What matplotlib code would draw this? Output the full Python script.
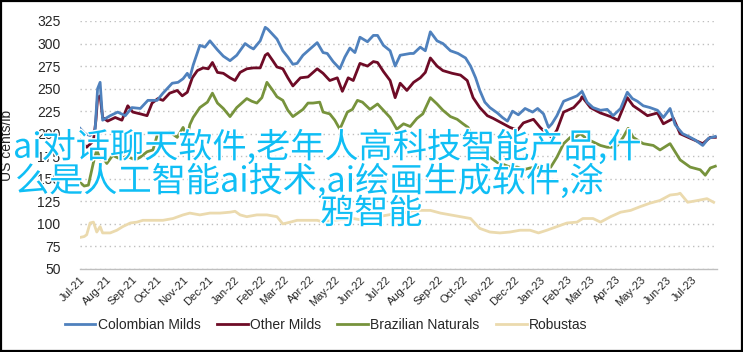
import matplotlib
matplotlib.use("Agg")
import matplotlib.pyplot as plt
import matplotlib.dates as mdates
import matplotlib.patheffects as pe
from matplotlib.patches import Rectangle
import numpy as np
import pandas as pd

START = "2021-07-01"
END = "2023-07-31"

# day offsets from START and prices (US cents/lb)
colombian_days = [0, 6, 12, 18, 21, 24, 27, 36, 45, 54, 62, 72, 81, 92, 99, 110, 117, 123, 128, 131, 135, 143, 149,
                  155, 164, 171, 179, 187, 197, 203, 207, 215, 221, 224, 229, 235, 242, 248, 254, 259, 266, 272, 283,
                  290, 295, 302, 310, 316, 322, 328, 334, 343, 350, 355, 362, 370, 376, 382, 394, 398, 406, 412, 418,
                  426, 433, 442, 451, 460, 466, 472, 477, 483, 489, 498, 504, 510, 516, 523, 531, 540, 546, 553, 559,
                  563, 569, 577, 585, 593, 599, 605, 612, 621, 629, 636, 645, 653, 659, 665, 672, 680, 689, 696, 704,
                  710, 719, 726, 734, 743, 750, 758]
colombian_vals = [206, 200, 198, 204, 250, 257, 215, 220, 224, 220, 229, 228, 237, 237, 245, 256, 257, 261, 267, 262,
                  276, 298, 296, 303, 293, 286, 281, 287, 300, 296, 294, 303, 318, 316, 311, 305, 292, 285, 277, 278,
                  287, 292, 301, 290, 289, 280, 272, 285, 295, 290, 307, 302, 309, 309, 298, 292, 275, 287, 289, 289,
                  296, 292, 313, 303, 300, 292, 289, 284, 275, 262, 248, 235, 229, 223, 218, 214, 225, 221, 228, 224,
                  228, 222, 207, 211, 220, 236, 239, 242, 247, 235, 229, 226, 227, 220, 228, 246, 239, 236, 231, 229,
                  226, 218, 228, 210, 200, 197, 193, 187, 195, 197]

other_days = [0, 5, 8, 16, 19, 21, 24, 27, 33, 42, 50, 57, 63, 72, 80, 86, 93, 99, 107, 116, 122, 128, 134, 140, 147,
              153, 158, 164, 171, 179, 185, 191, 199, 207, 215, 221, 224, 230, 235, 242, 248, 254, 263, 272, 283, 290,
              298, 307, 313, 320, 326, 334, 343, 350, 355, 362, 370, 376, 382, 390, 398, 406, 412, 418, 426, 433, 444,
              454, 462, 469, 477, 486, 493, 505, 513, 522, 529, 541, 549, 557, 563, 569, 577, 589, 597, 599, 609, 621,
              633, 642, 653, 660, 668, 677, 689, 696, 708, 716, 728, 743, 752, 758]
other_vals = [193, 188, 185, 192, 215, 240, 242, 218, 214, 218, 215, 231, 224, 222, 220, 234, 239, 237, 245, 248, 242,
              246, 262, 270, 273, 272, 279, 268, 267, 262, 259, 268, 272, 273, 273, 287, 289, 281, 274, 272, 262, 253,
              262, 263, 272, 267, 259, 262, 247, 262, 259, 278, 275, 280, 279, 269, 259, 240, 256, 248, 257, 262, 268,
              284, 275, 270, 267, 265, 259, 240, 229, 220, 217, 211, 207, 204, 212, 216, 207, 200, 196, 204, 224, 229,
              237, 241, 229, 223, 219, 215, 240, 231, 226, 220, 223, 211, 217, 200, 195, 189, 196, 196]

brazil_days = [0, 5, 10, 16, 20, 24, 27, 32, 39, 48, 56, 66, 72, 80, 87, 92, 99, 107, 116, 123, 128, 131, 135, 143,
               152, 158, 164, 171, 179, 187, 199, 205, 211, 217, 223, 230, 235, 242, 248, 254, 266, 272, 278, 286, 290,
               298, 304, 310, 319, 325, 331, 337, 346, 355, 362, 370, 378, 386, 394, 402, 409, 418, 426, 433, 442, 450,
               457, 463, 469, 477, 483, 489, 498, 505, 513, 522, 529, 537, 546, 553, 557, 563, 569, 577, 585, 591, 597,
               605, 612, 621, 629, 636, 641, 648, 654, 660, 672, 684, 692, 704, 710, 716, 728, 740, 746, 752, 758]
brazil_vals = [146, 142, 143, 168, 182, 172, 174, 167, 176, 172, 175, 171, 174, 180, 182, 198, 200, 202, 196, 207, 196,
               210, 218, 229, 235, 245, 234, 228, 219, 229, 239, 236, 234, 240, 257, 248, 241, 237, 226, 219, 227, 234,
               234, 235, 224, 222, 215, 205, 224, 227, 237, 235, 227, 233, 226, 218, 205, 211, 208, 217, 222, 240, 233,
               226, 219, 216, 211, 207, 194, 185, 180, 174, 168, 166, 163, 163, 160, 162, 163, 158, 156, 165, 174, 189,
               196, 196, 200, 194, 191, 187, 185, 185, 187, 196, 206, 196, 189, 187, 182, 189, 180, 171, 163, 160, 154,
               162, 164]

robusta_days = [0, 5, 8, 12, 16, 20, 24, 27, 36, 44, 51, 60, 68, 75, 87, 99, 111, 123, 131, 143, 155, 167, 179, 185,
                191, 199, 211, 223, 235, 242, 251, 259, 271, 283, 290, 302, 314, 326, 338, 350, 362, 374, 386, 398,
                406, 418, 430, 442, 454, 466, 477, 489, 501, 513, 525, 537, 547, 557, 569, 581, 593, 600, 612, 621,
                633, 645, 657, 668, 680, 692, 704, 713, 716, 725, 737, 748, 756]
robusta_vals = [85, 86, 88, 101, 102, 91, 97, 90, 90, 93, 97, 101, 102, 104, 104, 104, 106, 110, 112, 110, 112, 112,
                113, 114, 110, 108, 110, 110, 108, 100, 102, 104, 104, 104, 102, 104, 105, 106, 104, 107, 109, 111,
                112, 115, 115, 115, 112, 110, 108, 106, 95, 91, 90, 91, 93, 93, 90, 93, 97, 101, 102, 106, 106, 102,
                108, 113, 115, 119, 123, 126, 132, 133, 134, 124, 126, 128, 124]

series_names = ["Colombian Milds", "Other Milds", "Brazilian Naturals", "Robustas"]
series_colors = ["#4F81BD", "#6E0B26", "#77933C", "#EBDAAE"]
y_ticks = [50, 75, 100, 125, 150, 175, 200, 225, 250, 275, 300, 325]
y_label = "US cents/lb"
overlay_lines = ["ai对话聊天软件,老年人高科技智能产品,什",
                 "么是人工智能ai技术,ai绘画生成软件,涂",
                 "鸦智能"]

plt.rcParams["font.family"] = ["Liberation Sans", "DejaVu Sans"]

W, H = 743, 352
fig = plt.figure(figsize=(W / 100, H / 100), dpi=100)
fig.patch.set_facecolor("white")
ax_w = 717 - 80
ax = fig.add_axes([80 / W, 1 - 269 / H, ax_w / W, (269 - 21) / H])

start = pd.Timestamp(START)
series = [(colombian_days, colombian_vals), (other_days, other_vals),
          (brazil_days, brazil_vals), (robusta_days, robusta_vals)]
# draw in reverse so Colombian sits on top
for (days, vals), name, col in reversed(list(zip(series, series_names, series_colors))):
    dates = start + pd.to_timedelta(days, unit="D")
    ax.plot(dates, vals, color=col, lw=2.0, label=name, solid_joinstyle="round")

ax.set_ylim(50, 325)
ax.set_xlim(pd.Timestamp(START), pd.Timestamp(END))
ax.set_yticks(y_ticks)
ax.yaxis.grid(True, linestyle=(0, (1, 2.5)), color="#BFBFBF", lw=1.0)
ax.set_axisbelow(True)
for s in ["top", "right", "left"]:
    ax.spines[s].set_visible(False)
ax.spines["bottom"].set_color("#BFBFBF")
ax.spines["bottom"].set_linewidth(1.0)
ax.tick_params(axis="y", length=0, pad=14, labelsize=10, labelcolor="#262626")
ax.xaxis.set_major_locator(mdates.MonthLocator())
ax.xaxis.set_major_formatter(mdates.DateFormatter("%b-%y"))
ax.tick_params(axis="x", length=0, pad=4, labelsize=8, labelcolor="#262626")
for lab in ax.get_xticklabels():
    lab.set_rotation(45)
    lab.set_ha("right")
    lab.set_rotation_mode("anchor")
ax.set_ylabel(y_label, fontsize=10, color="#262626")
ax.yaxis.set_label_coords((14 - 80) / ax_w, 0.5)

handles, labels = ax.get_legend_handles_labels()
handles, labels = handles[::-1], labels[::-1]
fig.legend(handles, labels, loc="center", bbox_to_anchor=(326 / W, 1 - 325 / H), ncol=4, frameon=False,
           fontsize=10, handlelength=2.2, handletextpad=0.15, columnspacing=1.2, labelcolor="#262626")

# border
fig.add_artist(Rectangle((0.001, 0.002), 0.997, 0.995, transform=fig.transFigure, fill=False,
                         edgecolor="black", lw=1.6))

# overlay text
cjk = ["Noto Sans CJK SC", "DejaVu Sans"]
line_pos = [(13, 148), (15, 182), (320, 214)]
for txt, (px, py) in zip(overlay_lines, line_pos):
    fig.text(px / W, 1 - py / H, txt, family=cjk, fontsize=24.6, color="#0FBEF5", ha="left", va="center",
             path_effects=[pe.withStroke(linewidth=2, foreground="white")], zorder=10)

fig.savefig("out.png", dpi=100)
